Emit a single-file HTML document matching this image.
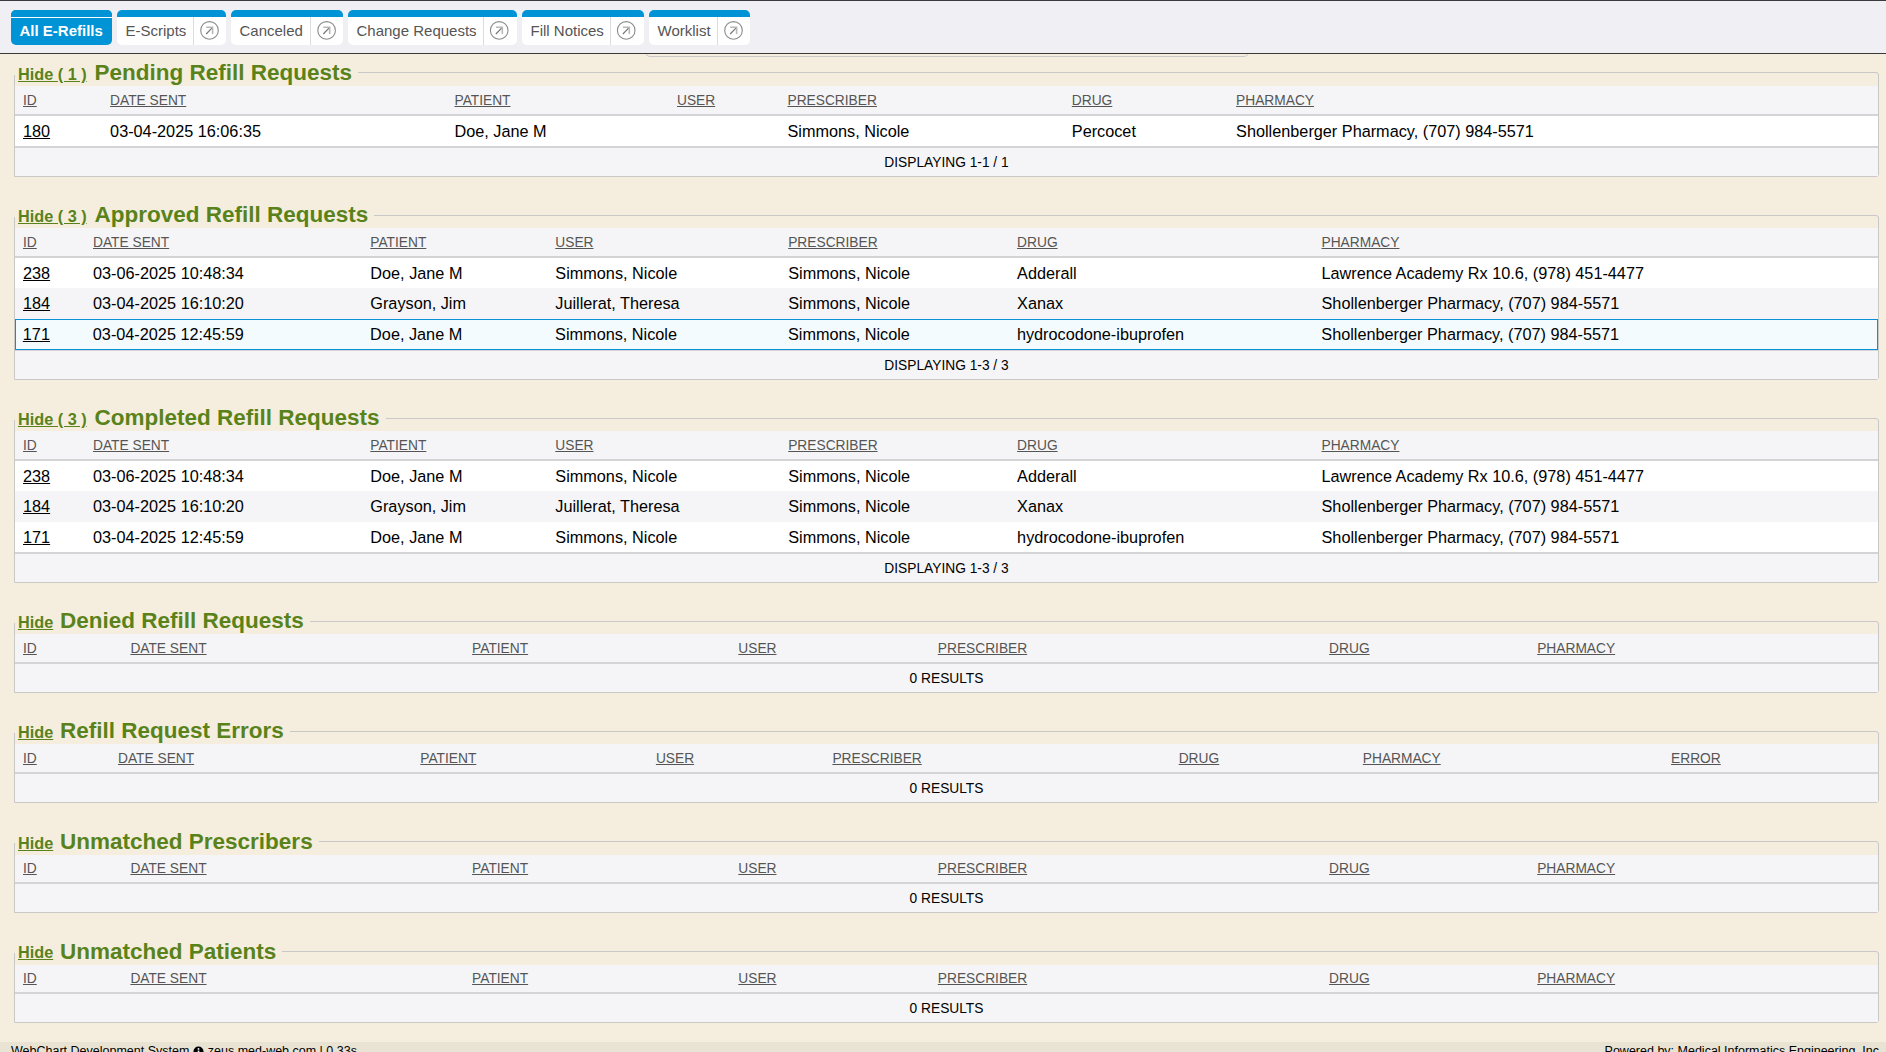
<!DOCTYPE html>
<html lang="en"><head><meta charset="utf-8"><title>E-Refills</title>
<style>
*{box-sizing:border-box;margin:0;padding:0}
html,body{width:1886px;height:1052px;overflow:hidden}
body{background:#f5eedf;font-family:"Liberation Sans",sans-serif;font-size:16.25px;color:#000;position:relative}
#hdr{position:absolute;left:0;top:0;width:1886px;height:53.5px;background:#efeff4;border-top:1.2px solid #3a3a3a;border-bottom:1.5px solid #3a3a3a}
#peek{position:absolute;left:645px;top:47px;width:603.5px;height:9.5px;border:1.3px solid #c9c9c9;border-radius:0 0 5px 5px;background:#f5eedf}
.tab{position:absolute;top:10px;height:35px;background:#fff;border-radius:5px 5px 5px 5px;overflow:hidden;font-size:15px;color:#555}
.tab:before{content:"";position:absolute;left:0;top:0;right:0;height:7px;background:#0093d6}
.tab .t{position:absolute;left:8.5px;top:7.2px;line-height:27px;white-space:nowrap}
.tab .s{position:absolute;top:7px;bottom:0;width:1px;background:#dcdcdc}
.tab svg{position:absolute;top:10px;width:20px;height:20px}
.tab.on{background:#0093d6;color:#fff;font-weight:bold}
.tab.on:after{content:"";position:absolute;left:0;right:0;top:7px;height:1px;background:#fff}
.fs{position:absolute;left:14px;width:1865px;border:1px solid #c8c8c8;border-radius:0 3px 3px 0}
.lg{position:absolute;left:14px;height:16.5px;background:#f5eedf;padding:0 6px 0 4px;white-space:nowrap;color:#59831a;font-weight:bold}
.lg a{font-size:16.25px;text-decoration:underline;color:#59831a}
.lg b{font-size:22.5px;position:relative;top:0.2px}
.row{position:absolute;left:15px;width:1863px}
.row span{position:absolute;top:0;white-space:nowrap}
.hd{background:#f5f5f7;font-size:13.75px;color:#555}
.hd span{text-decoration:underline}
.ln{position:absolute;left:15px;width:1863px;height:2px;background:#d4d4d6}
.w{background:#fff}
.g{background:#f5f5f7}
.sel{background:#f4fbfe;border:1.2px solid #0c90d4;z-index:2}
.sel span{margin-top:-1.2px;margin-left:-1.2px}
.row u{text-decoration:underline}
.ft{background:#f5f5f7;font-size:13.75px;text-align:center;color:#000}
#foot{position:absolute;left:0;top:1042.3px;width:1886px;height:20px;background:#e9e3d3;font-size:12.5px;color:#000}
#foot span{position:absolute;top:0.9px;white-space:nowrap;line-height:16px}
</style></head>
<body>
<div id="peek"></div>
<div id="hdr"></div>
<div class="tab on" style="left:11px;width:101px"><span class="t">All E-Refills</span></div>
<div class="tab" style="left:117px;width:109px"><span class="t">E-Scripts</span><i class="s" style="left:76.0px"></i><svg viewBox="0 0 20 20" style="left:82px"><g transform="translate(0.5 0.4)"><circle cx="10" cy="10" r="8.8" fill="none" stroke="#8a8a8a" stroke-width="1.1"/><path d="M6.7 13.6 L13.1 6.9" stroke="#777" stroke-width="1.2" fill="none"/><path d="M6.7 6.9 H13.1 V13.6" stroke="#b8b8b8" stroke-width="1.6" fill="none"/></g></svg></div>
<div class="tab" style="left:231px;width:112px"><span class="t">Canceled</span><i class="s" style="left:79.1px"></i><svg viewBox="0 0 20 20" style="left:85px"><g transform="translate(0.6 0.4)"><circle cx="10" cy="10" r="8.8" fill="none" stroke="#8a8a8a" stroke-width="1.1"/><path d="M6.7 13.6 L13.1 6.9" stroke="#777" stroke-width="1.2" fill="none"/><path d="M6.7 6.9 H13.1 V13.6" stroke="#b8b8b8" stroke-width="1.6" fill="none"/></g></svg></div>
<div class="tab" style="left:348px;width:169px"><span class="t">Change Requests</span><i class="s" style="left:134.7px"></i><svg viewBox="0 0 20 20" style="left:141px"><g transform="translate(0.2 0.4)"><circle cx="10" cy="10" r="8.8" fill="none" stroke="#8a8a8a" stroke-width="1.1"/><path d="M6.7 13.6 L13.1 6.9" stroke="#777" stroke-width="1.2" fill="none"/><path d="M6.7 6.9 H13.1 V13.6" stroke="#b8b8b8" stroke-width="1.6" fill="none"/></g></svg></div>
<div class="tab" style="left:522px;width:122px"><span class="t">Fill Notices</span><i class="s" style="left:87.7px"></i><svg viewBox="0 0 20 20" style="left:94px"><g transform="translate(0.2 0.4)"><circle cx="10" cy="10" r="8.8" fill="none" stroke="#8a8a8a" stroke-width="1.1"/><path d="M6.7 13.6 L13.1 6.9" stroke="#777" stroke-width="1.2" fill="none"/><path d="M6.7 6.9 H13.1 V13.6" stroke="#b8b8b8" stroke-width="1.6" fill="none"/></g></svg></div>
<div class="tab" style="left:649px;width:101px"><span class="t">Worklist</span><i class="s" style="left:68.0px"></i><svg viewBox="0 0 20 20" style="left:74px"><g transform="translate(0.5 0.4)"><circle cx="10" cy="10" r="8.8" fill="none" stroke="#8a8a8a" stroke-width="1.1"/><path d="M6.7 13.6 L13.1 6.9" stroke="#777" stroke-width="1.2" fill="none"/><path d="M6.7 6.9 H13.1 V13.6" stroke="#b8b8b8" stroke-width="1.6" fill="none"/></g></svg></div>
<div class="fs" style="top:71.8px;height:105.7px"></div>
<div class="lg" style="top:58.0px;line-height:30px"><a>Hide ( 1 )</a> <b style="margin-left:3.4px">Pending Refill Requests</b></div>
<div class="row hd" style="top:86px;height:29px;line-height:29.5px"><span style="left:8.0px">ID</span><span style="left:95.1px">DATE SENT</span><span style="left:439.5px">PATIENT</span><span style="left:662.0px">USER</span><span style="left:772.5px">PRESCRIBER</span><span style="left:1056.8px">DRUG</span><span style="left:1221.1px">PHARMACY</span></div>
<div class="ln" style="top:114.3px"></div>
<div class="row w" style="top:116.3px;height:30.1px;line-height:30px"><span style="left:8.0px"><u>180</u></span><span style="left:95.1px">03-04-2025 16:06:35</span><span style="left:439.5px">Doe, Jane M</span><span style="left:772.5px">Simmons, Nicole</span><span style="left:1056.8px">Percocet</span><span style="left:1221.1px">Shollenberger Pharmacy, (707) 984-5571</span></div>
<div class="ln" style="top:146.4px"></div>
<div class="row ft" style="top:148.3px;height:28.2px;line-height:30.4px">DISPLAYING 1-1 / 1</div>
<div class="fs" style="top:215.0px;height:165.3px"></div>
<div class="lg" style="top:200.0px;line-height:30px"><a>Hide ( 3 )</a> <b style="margin-left:3.4px">Approved Refill Requests</b></div>
<div class="row hd" style="top:228px;height:29px;line-height:29.5px"><span style="left:8.0px">ID</span><span style="left:78.0px">DATE SENT</span><span style="left:355.3px">PATIENT</span><span style="left:540.3px">USER</span><span style="left:773.2px">PRESCRIBER</span><span style="left:1002.1px">DRUG</span><span style="left:1306.5px">PHARMACY</span></div>
<div class="ln" style="top:256.0px"></div>
<div class="row w" style="top:258.0px;height:30.0px;line-height:30px"><span style="left:8.0px"><u>238</u></span><span style="left:78.0px">03-06-2025 10:48:34</span><span style="left:355.3px">Doe, Jane M</span><span style="left:540.3px">Simmons, Nicole</span><span style="left:773.2px">Simmons, Nicole</span><span style="left:1002.1px">Adderall</span><span style="left:1306.5px">Lawrence Academy Rx 10.6, (978) 451-4477</span></div>
<div class="row g" style="top:288.0px;height:31.2px;line-height:30px"><span style="left:8.0px"><u>184</u></span><span style="left:78.0px">03-04-2025 16:10:20</span><span style="left:355.3px">Grayson, Jim</span><span style="left:540.3px">Juillerat, Theresa</span><span style="left:773.2px">Simmons, Nicole</span><span style="left:1002.1px">Xanax</span><span style="left:1306.5px">Shollenberger Pharmacy, (707) 984-5571</span></div>
<div class="row sel" style="top:319.2px;height:30.6px;line-height:30px"><span style="left:8.0px"><u>171</u></span><span style="left:78.0px">03-04-2025 12:45:59</span><span style="left:355.3px">Doe, Jane M</span><span style="left:540.3px">Simmons, Nicole</span><span style="left:773.2px">Simmons, Nicole</span><span style="left:1002.1px">hydrocodone-ibuprofen</span><span style="left:1306.5px">Shollenberger Pharmacy, (707) 984-5571</span></div>
<div class="ln" style="top:348.6px"></div>
<div class="row ft" style="top:350.5px;height:28.8px;line-height:29.5px">DISPLAYING 1-3 / 3</div>
<div class="fs" style="top:418.0px;height:165.3px"></div>
<div class="lg" style="top:403.0px;line-height:30px"><a>Hide ( 3 )</a> <b style="margin-left:3.4px">Completed Refill Requests</b></div>
<div class="row hd" style="top:431px;height:29px;line-height:29.5px"><span style="left:8.0px">ID</span><span style="left:78.0px">DATE SENT</span><span style="left:355.3px">PATIENT</span><span style="left:540.3px">USER</span><span style="left:773.2px">PRESCRIBER</span><span style="left:1002.1px">DRUG</span><span style="left:1306.5px">PHARMACY</span></div>
<div class="ln" style="top:459.0px"></div>
<div class="row w" style="top:461.0px;height:30.0px;line-height:30px"><span style="left:8.0px"><u>238</u></span><span style="left:78.0px">03-06-2025 10:48:34</span><span style="left:355.3px">Doe, Jane M</span><span style="left:540.3px">Simmons, Nicole</span><span style="left:773.2px">Simmons, Nicole</span><span style="left:1002.1px">Adderall</span><span style="left:1306.5px">Lawrence Academy Rx 10.6, (978) 451-4477</span></div>
<div class="row g" style="top:491.0px;height:31.2px;line-height:30px"><span style="left:8.0px"><u>184</u></span><span style="left:78.0px">03-04-2025 16:10:20</span><span style="left:355.3px">Grayson, Jim</span><span style="left:540.3px">Juillerat, Theresa</span><span style="left:773.2px">Simmons, Nicole</span><span style="left:1002.1px">Xanax</span><span style="left:1306.5px">Shollenberger Pharmacy, (707) 984-5571</span></div>
<div class="row w" style="top:522.2px;height:29.4px;line-height:30px"><span style="left:8.0px"><u>171</u></span><span style="left:78.0px">03-04-2025 12:45:59</span><span style="left:355.3px">Doe, Jane M</span><span style="left:540.3px">Simmons, Nicole</span><span style="left:773.2px">Simmons, Nicole</span><span style="left:1002.1px">hydrocodone-ibuprofen</span><span style="left:1306.5px">Shollenberger Pharmacy, (707) 984-5571</span></div>
<div class="ln" style="top:551.6px"></div>
<div class="row ft" style="top:553.5px;height:28.8px;line-height:29.5px">DISPLAYING 1-3 / 3</div>
<div class="fs" style="top:621.0px;height:72.0px"></div>
<div class="lg" style="top:606.0px;line-height:30px"><a>Hide</a> <b style="margin-left:2.3px">Denied Refill Requests</b></div>
<div class="row hd" style="top:634px;height:29px;line-height:29.5px"><span style="left:8.0px">ID</span><span style="left:115.4px">DATE SENT</span><span style="left:457.1px">PATIENT</span><span style="left:723.3px">USER</span><span style="left:922.8px">PRESCRIBER</span><span style="left:1314.1px">DRUG</span><span style="left:1522.2px">PHARMACY</span></div>
<div class="ln" style="top:662.0px"></div>
<div class="row ft" style="top:664.0px;height:28px;line-height:30.6px">0 RESULTS</div>
<div class="fs" style="top:731.0px;height:72.0px"></div>
<div class="lg" style="top:716.0px;line-height:30px"><a>Hide</a> <b style="margin-left:2.3px">Refill Request Errors</b></div>
<div class="row hd" style="top:744px;height:29px;line-height:29.5px"><span style="left:8.0px">ID</span><span style="left:103.0px">DATE SENT</span><span style="left:405.3px">PATIENT</span><span style="left:640.9px">USER</span><span style="left:817.4px">PRESCRIBER</span><span style="left:1163.7px">DRUG</span><span style="left:1347.8px">PHARMACY</span><span style="left:1656.1px">ERROR</span></div>
<div class="ln" style="top:772.0px"></div>
<div class="row ft" style="top:774.0px;height:28px;line-height:30.6px">0 RESULTS</div>
<div class="fs" style="top:841.0px;height:72.0px"></div>
<div class="lg" style="top:826.5px;line-height:30px"><a>Hide</a> <b style="margin-left:2.3px">Unmatched Prescribers</b></div>
<div class="row hd" style="top:855px;height:28px;line-height:27.5px"><span style="left:8.0px">ID</span><span style="left:115.4px">DATE SENT</span><span style="left:457.1px">PATIENT</span><span style="left:723.3px">USER</span><span style="left:922.8px">PRESCRIBER</span><span style="left:1314.1px">DRUG</span><span style="left:1522.2px">PHARMACY</span></div>
<div class="ln" style="top:882.0px"></div>
<div class="row ft" style="top:884.0px;height:28px;line-height:30.6px">0 RESULTS</div>
<div class="fs" style="top:951.0px;height:72.0px"></div>
<div class="lg" style="top:936.4px;line-height:30px"><a>Hide</a> <b style="margin-left:2.3px">Unmatched Patients</b></div>
<div class="row hd" style="top:964.8px;height:28.2px;line-height:27.9px"><span style="left:8.0px">ID</span><span style="left:115.4px">DATE SENT</span><span style="left:457.1px">PATIENT</span><span style="left:723.3px">USER</span><span style="left:922.8px">PRESCRIBER</span><span style="left:1314.1px">DRUG</span><span style="left:1522.2px">PHARMACY</span></div>
<div class="ln" style="top:992.0px"></div>
<div class="row ft" style="top:994.0px;height:28px;line-height:30.6px">0 RESULTS</div>
<div id="foot"><span style="left:11px">WebChart Development System <svg width="11" height="11" viewBox="0 0 13 13" style="vertical-align:-2.1px;margin-left:0.5px"><circle cx="6.5" cy="6.5" r="6" fill="#000"/><rect x="5.6" y="5.4" width="1.9" height="4.6" fill="#fff"/><circle cx="6.5" cy="3.4" r="1.1" fill="#fff"/></svg> zeus.med-web.com | 0.33s</span><span style="right:3.5px">Powered by: Medical Informatics Engineering, Inc.</span></div>
</body></html>
